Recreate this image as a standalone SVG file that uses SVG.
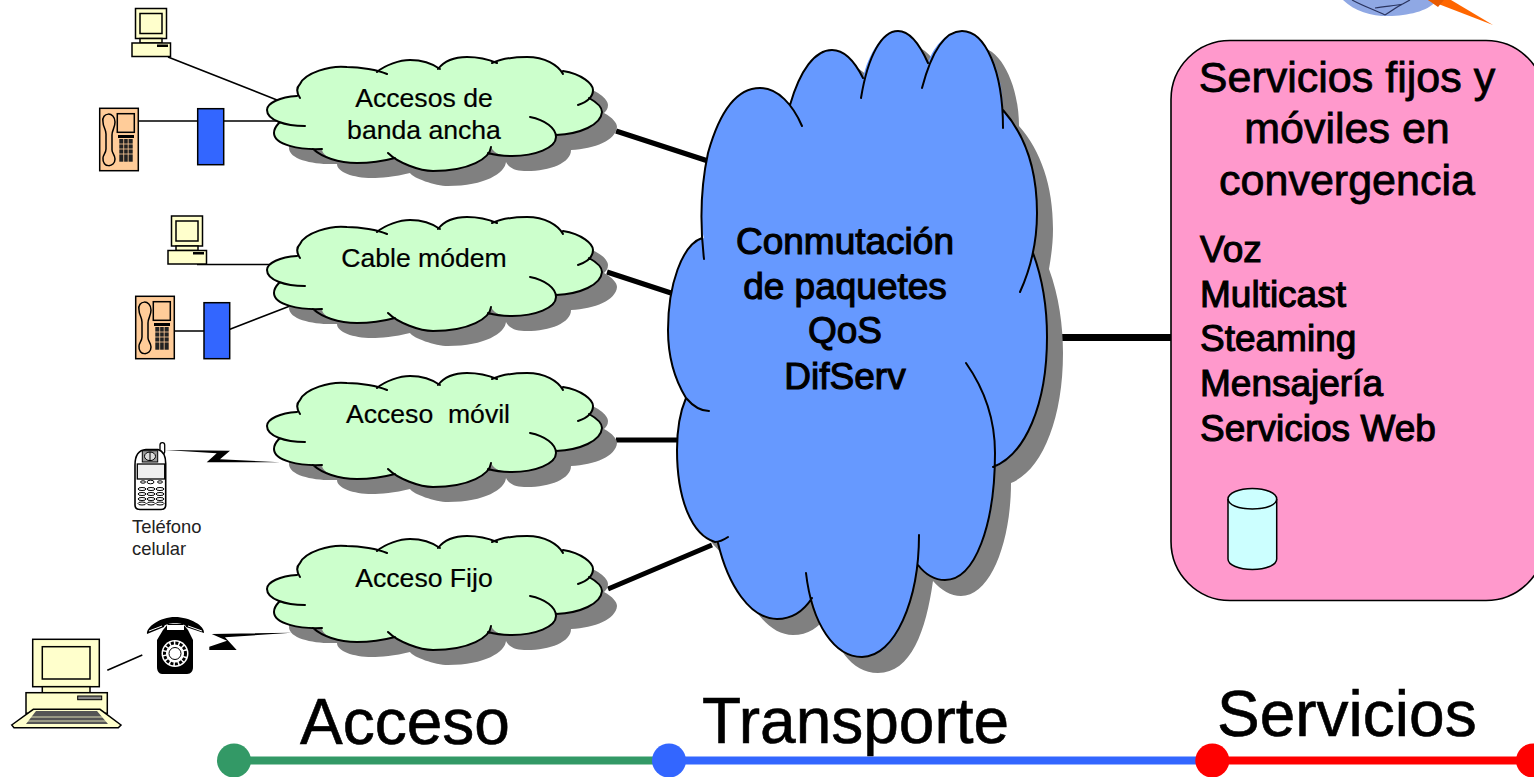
<svg xmlns="http://www.w3.org/2000/svg" width="1534" height="777" viewBox="0 0 1534 777">
<style>
text{font-family:"Liberation Sans",Arial,sans-serif;fill:#000}
.c{text-anchor:middle}
.s{font-size:26.6px;stroke:#000;stroke-width:.2px}
.b{font-size:37px;stroke:#000;stroke-width:1.1px}
.t{font-size:43px;stroke:#000;stroke-width:.8px}
.h{font-size:64px;stroke:#000;stroke-width:.6px}
.thin{stroke:#000;stroke-width:1.6;fill:none}
.thick{stroke:#000;stroke-width:5;fill:none}
.y{fill:#ffc;stroke:#000;stroke-width:1.5}
.o{fill:#fc9;stroke:#000;stroke-width:1.5}
.bb{fill:#36f;stroke:#000;stroke-width:1.5}
.sh{fill:#808080}
.gf{fill:#cfc}
.bf{fill:#69f}
.ol{fill:none;stroke:#000;stroke-width:2;stroke-linecap:round}
</style>
<defs>
<path id="cf" d="M279,123C272,119 267,115 267,110C267,103 280,97 297,96L300,98C296,92 296,88 300,84C305,73 330,65 347,67C360,67 378,70 387,74L377,72C385,65 400,60 410,60C425,60 433,64 440,69L438,69C445,60 455,57 467,57C480,57 490,60 497,63L492,63C503,58 515,57 527,57C545,57 558,65 563,74L563,71C582,74 593,84 593,90C593,94 591,96 589,98C598,103 602,108 602,112C601,125 580,134 556,135C556,148 535,156 512,156C503,156 495,155 491,147C490,158 470,171 433,171C420,171 398,163 395,158C380,162 365,163 357,163C338,163 322,157 322,149C300,150 274,145 274,133C274,130 276,126 279,123Z"/>
<path id="cs" d="M297,96C280,97 267,103 267,110C267,120 285,126 305,126M300,98C296,92 296,88 300,84C305,73 330,65 347,67C360,67 378,70 387,74M377,72C385,65 400,60 410,60C425,60 433,64 440,69M438,69C445,60 455,57 467,57C480,57 490,60 497,63M492,63C503,58 515,57 527,57C545,57 558,65 563,74M563,71C582,74 593,84 593,90C593,97 587,102 578,105M589,98C598,103 602,108 602,112C601,125 580,134 556,135M530,117C545,120 556,128 556,137C556,148 535,156 512,156C503,156 495,155 488,153M491,147C490,158 470,171 433,171C420,171 398,163 388,153M395,158C380,162 365,163 357,163C338,163 322,157 313,149M322,149C300,150 274,145 274,133C274,130 276,126 279,123"/>
<path id="bcf" d="M704,238C700,225 700,190 708,153C720,110 738,88 760,88C778,88 793,105 802,126L790,105C800,70 815,50 832,50C845,50 855,62 863,78C868,55 882,31 898,31C910,31 920,45 928,63C932,50 945,31 962,31C985,31 1003,70 1003,110C1025,135 1037,170 1037,213C1037,228 1035,241 1033,253C1043,280 1047,310 1047,337C1047,405 1025,455 995,467C995,525 975,580 945,580C935,580 925,574 917,565C910,615 895,657 862,657C835,657 818,630 812,598C803,612 792,619 777,619C750,619 728,585 718,543C692,535 677,500 677,450C677,430 680,412 686,398C675,380 668,360 668,330C668,285 682,245 704,238Z"/>
<path id="bcs" d="M704,259C700,225 700,190 708,153C720,110 738,88 760,88C778,88 793,105 802,126M790,105C800,70 815,50 832,50C845,50 855,62 863,78M861,98C868,55 882,31 898,31C910,31 920,45 928,63M922,88C932,50 945,31 962,31C985,31 1003,70 1003,128M1003,110C1025,135 1037,170 1037,213C1037,245 1030,270 1020,292M1033,253C1043,280 1047,310 1047,337C1047,405 1025,455 993,467M966,363C985,390 995,420 995,453C995,525 975,580 945,580C935,580 925,574 918,565M919,535C919,600 895,657 862,657C835,657 812,625 806,573M812,598C803,612 792,619 777,619C750,619 728,585 718,543M728,537C722,541 718,542 715,542C692,535 677,500 677,450C677,430 680,412 686,398M709,411C700,411 692,405 686,398C675,380 668,360 668,330C668,285 682,245 702,238"/>
<g id="pc">
<rect class="y" x="135.500" y="8.500" width="31" height="30"/>
<rect class="y" x="140" y="13.500" width="22" height="20"/>
<rect class="y" x="140" y="38.500" width="22" height="4.500"/>
<rect class="y" x="132" y="43" width="38.500" height="13.500"/>
<rect x="157" y="44.500" width="11" height="2.500" fill="#000"/>
</g>
<g id="desk">
<rect class="o" x="99.700" y="108.300" width="38.600" height="62.400"/>
<rect class="o" x="117.300" y="113.700" width="17" height="18.600"/>
<path class="o" d="M103,122C101,112 115,111 115,122C115,128 112,130 112,135V150C112,153 115,155 115,159C115,168 102,168 103,158C103,155 106,153 106,149V134C106,129 103,127 103,122Z"/>
<rect x="118" y="135" width="16" height="3" fill="#000"/>
<rect x="119.300" y="139" width="13.400" height="22.700" fill="#222"/>
<path d="M119,144H133M119,149H133M119,154H133M123.700,139V162M128.200,139V162" stroke="#fc9" stroke-width=".8"/>
</g>
</defs>
<rect width="1534" height="777" fill="#fff"/>
<g id="connectors">
<path class="thick" d="M616,131L708,161M607,272L671,293M616,440L678,440M608,589L712,545"/>
<path d="M1060,337.500H1172" stroke="#000" stroke-width="7"/>
<path class="thin" d="M168,57L277,100M138,121H198M222,121H280M197,264.500H270M172,331H206M228,330L290,306M107.300,670.300L142.300,655"/>
<path d="M165,450L230,450.700L220,459.300L280,462.300L206.700,462.300L216.700,453.300Z" fill="#000"/>
<path d="M291.700,632.700L211.700,634L227,640.700L209.300,646.700V650H236.700L225,637.300Z" fill="#000"/>
</g>
<g id="logo">
<path d="M1343,0C1355,12 1375,17 1392,16C1412,15 1430,10 1437,0Z" fill="#8fa8e4"/>
<path d="M1352,0C1365,7 1375,10 1385,15M1385,15C1395,8 1400,5 1410,0M1375,8C1385,6 1395,6 1403,4" stroke="#2b3560" stroke-width="1.200" fill="none"/>
<path d="M1428,0L1493,25L1451,0Z" fill="#f60"/>
<path d="M1428,0L1438,7L1444,0Z" fill="#e85a00"/>
</g>
<g id="cloud-banda-ancha">
<use href="#cf" class="sh" transform="translate(15,15)"/><use href="#cf" class="gf"/><use href="#cs" class="ol"/>
<text class="s c" x="424" y="106.500">Accesos de</text><text class="s c" x="424" y="138.500">banda ancha</text>
</g>
<g id="cloud-cable">
<use href="#cf" class="sh" transform="translate(15,175)"/><use href="#cf" class="gf" transform="translate(0,160)"/><use href="#cs" class="ol" transform="translate(0,160)"/>
<text class="s c" x="424" y="267">Cable módem</text>
</g>
<g id="cloud-movil">
<use href="#cf" class="sh" transform="translate(15,331)"/><use href="#cf" class="gf" transform="translate(0,316)"/><use href="#cs" class="ol" transform="translate(0,316)"/>
<text class="s c" x="428" y="423" xml:space="preserve">Acceso  móvil</text>
</g>
<g id="cloud-fijo">
<use href="#cf" class="sh" transform="translate(15,494)"/><use href="#cf" class="gf" transform="translate(0,479)"/><use href="#cs" class="ol" transform="translate(0,479)"/>
<text class="s c" x="424" y="587">Acceso Fijo</text>
</g>
<g id="cloud-transporte">
<use href="#bcf" class="sh" transform="translate(16,16)"/><use href="#bcf" class="bf"/><use href="#bcs" class="ol"/>
<text class="b c" x="845" y="254">Conmutación</text>
<text class="b c" x="845" y="299">de paquetes</text>
<text class="b c" x="845" y="343">QoS</text>
<text class="b c" x="845" y="389">DifServ</text>
</g>
<g id="pc-1"><use href="#pc"/></g>
<g id="phone-1"><use href="#desk"/></g>
<g id="box-1"><rect class="bb" x="197.700" y="108.700" width="26" height="56"/></g>
<g id="pc-2"><use href="#pc" transform="translate(36,207.500)"/></g>
<g id="phone-2"><use href="#desk" transform="translate(36,188)"/></g>
<g id="box-2"><rect class="bb" x="204" y="302.700" width="25.700" height="56"/></g>
<g id="mobile">
<rect x="160" y="442.700" width="4.700" height="11" rx="2.300" fill="#fff" stroke="#000" stroke-width="1.300"/>
<path d="M135,465C135,455 139,450 146,449.500H158C163,451 166,456 165.700,465V505C165.700,508 164,509.500 161,509.500H140C137,509.500 135,508 135,505Z" fill="#fff" stroke="#000" stroke-width="1.600"/>
<rect x="142.300" y="450.700" width="15.400" height="11.300" fill="#999" stroke="#000"/>
<ellipse cx="150" cy="456.300" rx="5.500" ry="4.300" fill="#ddd" stroke="#000"/>
<path d="M150,452V460.500" stroke="#000"/>
<rect x="137.300" y="464" width="27.400" height="15" fill="#eee" stroke="#000" stroke-width="1.300"/>
<g fill="#fff" stroke="#000">
<ellipse cx="143" cy="482" rx="2.500" ry="1.200"/><ellipse cx="150.500" cy="482" rx="3.500" ry="1.800"/><ellipse cx="160" cy="482" rx="2.500" ry="1.200"/>
<ellipse cx="142" cy="489" rx="4" ry="1.500"/><ellipse cx="151" cy="489" rx="4" ry="1.500"/><ellipse cx="160" cy="489" rx="4" ry="1.500"/>
<ellipse cx="142" cy="494" rx="4" ry="1.500"/><ellipse cx="151" cy="494" rx="4" ry="1.500"/><ellipse cx="160" cy="494" rx="4" ry="1.500"/>
<ellipse cx="142" cy="499" rx="4" ry="1.500"/><ellipse cx="151" cy="499" rx="4" ry="1.500"/><ellipse cx="160" cy="499" rx="4" ry="1.500"/>
<ellipse cx="142" cy="503.500" rx="4" ry="1.500"/><ellipse cx="151" cy="503.500" rx="4" ry="1.500"/><ellipse cx="160" cy="503.500" rx="4" ry="1.500"/>
</g>
<text x="132" y="533" font-size="18.400" style="fill:#222">Teléfono</text>
<text x="132" y="555" font-size="18.400" style="fill:#222">celular</text>
</g>
<g id="rotary">
<path d="M147,634C146,627 160,617 175,617C190,617 205,626 204,633L186,627C186,622 164,622 164,627Z" fill="#000"/>
<path d="M149,631L162,626M188,626L202,631" stroke="#fff" stroke-width="1"/>
<path d="M163,630L168,624H183L188,630L193,640V667C193,671 191,674 187,674H162C159,674 157,671 157,667V640Z" fill="#000"/>
<rect x="167" y="625" width="17" height="5" fill="#fff"/>
<circle cx="175" cy="653.500" r="13.500" fill="#fff"/>
<circle cx="175" cy="653.500" r="10.500" fill="none" stroke="#000" stroke-width="3" stroke-dasharray="3 1.500"/>
<circle cx="175" cy="653.500" r="6" fill="#fff" stroke="#000"/>
</g>
<g id="computer">
<rect class="y" x="32.700" y="639.300" width="66.600" height="47.400"/>
<rect class="y" x="42.300" y="646.700" width="47.700" height="32.300"/>
<rect class="y" x="42.300" y="686.700" width="47.700" height="6.600"/>
<rect class="y" x="26" y="692.700" width="81.300" height="20.600"/>
<rect x="77.700" y="696" width="24" height="3.700" fill="#888" stroke="#000"/>
<path class="y" d="M11.700,725L33.300,709.300H100L121,725L118.300,727.700H14Z"/>
<path d="M26,724L36,711H97L108,724Z" fill="#555"/>
<path d="M30,717H103M26,721H108" stroke="#ffc" stroke-width=".8"/>
</g>
<g id="servicios-box">
<rect x="1171" y="40.500" width="374" height="560" rx="59" ry="59" fill="#f9c" stroke="#000" stroke-width="1.600"/>
<text class="t c" x="1347" y="92">Servicios fijos y</text>
<text class="t c" x="1347" y="143">móviles en</text>
<text class="t c" x="1347" y="195">convergencia</text>
<text class="b" x="1200" y="262">Voz</text>
<text class="b" x="1200" y="307">Multicast</text>
<text class="b" x="1200" y="351">Steaming</text>
<text class="b" x="1200" y="396">Mensajería</text>
<text class="b" x="1200" y="441">Servicios Web</text>
</g>
<g id="database">
<path d="M1228,499C1228,493 1239,488.500 1252.300,488.500C1266,488.500 1276.700,493 1276.700,499V559C1276.700,565 1266,569.500 1252.300,569.500C1239,569.500 1228,565 1228,559Z" fill="#cff" stroke="#000" stroke-width="1.500"/>
<path d="M1228,499C1228,505 1239,509 1252.300,509C1266,509 1276.700,505 1276.700,499" fill="none" stroke="#000" stroke-width="1.500"/>
</g>
<g id="timeline">
<path d="M234,760.500H670" stroke="#396" stroke-width="8"/>
<path d="M670,760.500H1212" stroke="#36f" stroke-width="8"/>
<path d="M1212,760.500H1534" stroke="#f00" stroke-width="8"/>
<circle cx="234" cy="760.500" r="17" fill="#396"/>
<circle cx="669" cy="760.500" r="17" fill="#36f"/>
<circle cx="1212.300" cy="760.500" r="17" fill="#f00"/>
<circle cx="1533" cy="760.500" r="17" fill="#f00"/>
<text class="h" x="300" y="744">Acceso</text>
<text class="h" x="702" y="743">Transporte</text>
<text class="h" x="1217" y="736">Servicios</text>
</g>
</svg>
